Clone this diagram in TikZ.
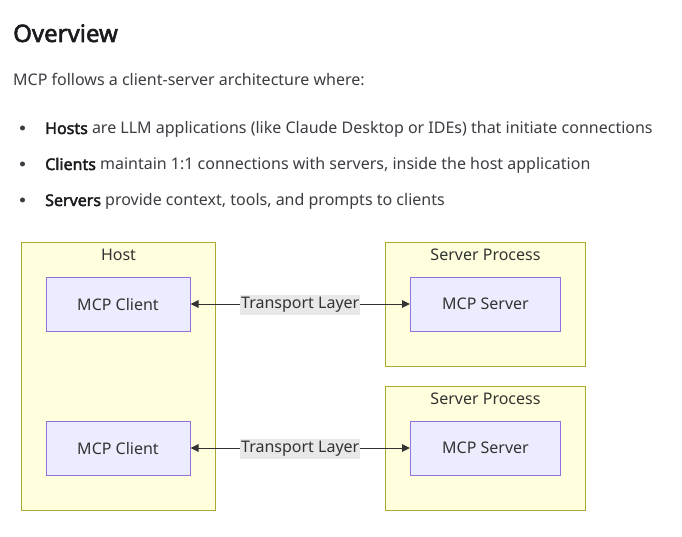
\documentclass[tikz,border=0pt]{standalone}
\usepackage{fontspec}
\setmainfont{Noto Sans}[AutoFakeBold=2.4]
\usetikzlibrary{calc,positioning,arrows.meta,backgrounds}
\definecolor{clusterfill}{HTML}{FFFFDE}
\definecolor{clusterline}{HTML}{AAAA33}
\definecolor{boxfill}{HTML}{ECECFF}
\definecolor{boxline}{HTML}{9370DB}
\definecolor{inktext}{HTML}{333333}
\definecolor{headtext}{HTML}{1B1B1F}
\definecolor{bodytext}{HTML}{3C3C43}
\definecolor{edgebg}{HTML}{E8E8E8}
\tikzset{
  cluster/.style={
    draw=clusterline,
    fill=clusterfill,
    line width=1pt,
    inner sep=0pt,
    anchor=north west
  },
  ctitle/.style={font=\fontsize{16}{19}\selectfont, text=inktext, inner sep=0pt},
  mcpbox/.style={
    draw=boxline,
    fill=boxfill,
    line width=1pt,
    minimum height=54pt,
    inner sep=0pt,
    font=\fontsize{16}{19}\selectfont,
    text=inktext
  },
  tlabel/.style={fill=edgebg, inner sep=1pt, minimum height=20pt, yshift=-0.8pt, font=\fontsize{16}{19}\selectfont, text=inktext},
  link/.style={{Triangle[length=8pt,width=7.5pt]}-{Triangle[length=8pt,width=7.5pt]}, draw=inktext, line width=1pt},
  body/.style={font=\fontsize{16}{19}\selectfont, text=bodytext, inner sep=0pt, anchor=base west},
  dotmark/.style={circle, fill=bodytext, inner sep=0pt, minimum size=5pt},
}
\newcommand{\ProcPair}[2]{%
  \node[cluster, minimum width=200pt, minimum height=124pt] (proc#1) at (385,#2) {};
  \node[ctitle] (proctit#1) at ($(proc#1.north)+(0,12.5)$) {Server Process};
  \node[mcpbox, minimum width=150pt] (srv#1) at ($(proc#1.north)+(0,62)$) {MCP Server};
}

\begin{document}
\begin{tikzpicture}[x=1pt, y=-1pt]
  \useasboundingbox[fill=white] (0,0) rectangle (682,537);
  % heading and intro
  \node[font=\fontsize{24}{28}\selectfont\bfseries, text=headtext, inner sep=0pt, anchor=base west] (ovtit) at (13,42) {Overview};
  \node[body] (intro) at (13,86) {MCP follows a client-server architecture where:};
  \foreach \b/\t [count=\i] in {Hosts/{are LLM applications (like Claude Desktop or IDEs) that initiate connections},
                               Clients/{maintain 1:1 connections with servers, inside the host application},
                               Servers/{provide context, tools, and prompts to clients}} {
    \node[dotmark] (dot\i) at (22.5,92+36*\i) {};
    \node[body] (item\i) at (45,98+36*\i) {\textbf{\textcolor{headtext}{\b}} \t};
  }
  % host side
  \node[cluster, minimum width=194pt, minimum height=268pt] (host) at (21,242) {};
  \node[ctitle] (hosttit) at ($(host.north)+(0,12.5)$) {Host};
  \node[mcpbox, minimum width=144pt] (cli1) at (118,304) {MCP Client};
  \node[mcpbox, minimum width=144pt] (cli2) at (118,448) {MCP Client};
  % servers
  \ProcPair{1}{242}
  \ProcPair{2}{386}
  \foreach \i in {1,2} {
    \draw[link] (cli\i) -- (srv\i) node[tlabel, midway] (tl\i) {Transport Layer};
  }
\end{tikzpicture}
\end{document}
